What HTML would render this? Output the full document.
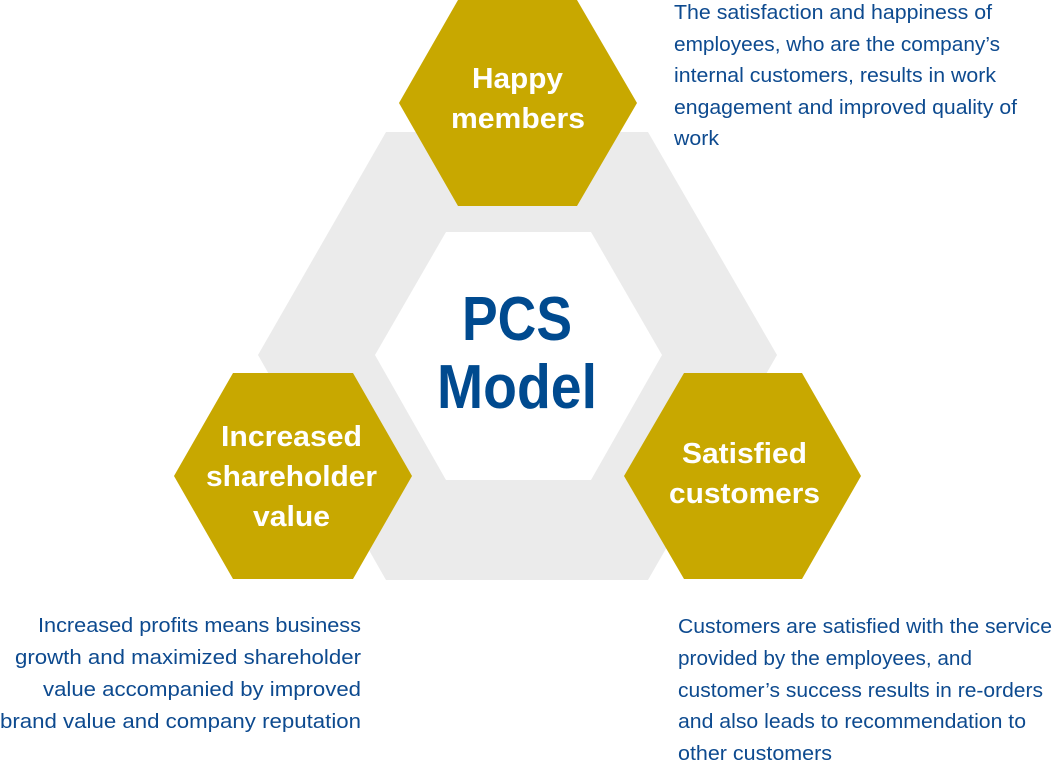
<!DOCTYPE html>
<html><head><meta charset="utf-8"><style>
html,body{margin:0;padding:0;background:#fff;width:1052px;height:762px;overflow:hidden}
svg{display:block}
.d{font-family:"Liberation Sans",sans-serif;font-size:20px;fill:#0d4a8f}
.h{font-family:"Liberation Sans",sans-serif;font-size:29px;font-weight:bold;fill:#fff}
.p{font-family:"Liberation Sans",sans-serif;font-size:62px;font-weight:bold;fill:#004a8f}
</style></head><body>
<svg width="1052" height="762" viewBox="0 0 1052 762" xmlns="http://www.w3.org/2000/svg">
<polygon points="258,355 386,132 648,132 777,355 648,580 386,580" fill="#ebebeb"/>
<polygon points="375,355 446,232 591,232 662,355 591,480 446,480" fill="#fff"/>
<polygon points="399,103 458,0 577,0 637,103 577,206 458,206" fill="#c8a800"/>
<polygon points="174,476 233,373 353,373 412,476 353,579 233,579" fill="#c8a800"/>
<polygon points="624,476 684,373 802,373 861,476 802,579 684,579" fill="#c8a800"/>
<text class="h" x="472" y="88" textLength="91" lengthAdjust="spacingAndGlyphs">Happy</text>
<text class="h" x="451" y="128" textLength="134" lengthAdjust="spacingAndGlyphs">members</text>
<text class="h" x="221" y="446" textLength="141" lengthAdjust="spacingAndGlyphs">Increased</text>
<text class="h" x="206" y="486" textLength="171" lengthAdjust="spacingAndGlyphs">shareholder</text>
<text class="h" x="253" y="526" textLength="77" lengthAdjust="spacingAndGlyphs">value</text>
<text class="h" x="682" y="463" textLength="125" lengthAdjust="spacingAndGlyphs">Satisfied</text>
<text class="h" x="669" y="503" textLength="151" lengthAdjust="spacingAndGlyphs">customers</text>
<text class="p" x="462" y="340" textLength="110" lengthAdjust="spacingAndGlyphs">PCS</text>
<text class="p" x="437" y="408" textLength="160" lengthAdjust="spacingAndGlyphs">Model</text>
<text class="d" x="674" y="19" textLength="318" lengthAdjust="spacingAndGlyphs">The satisfaction and happiness of</text>
<text class="d" x="674" y="51" textLength="326" lengthAdjust="spacingAndGlyphs">employees, who are the company’s</text>
<text class="d" x="674" y="82" textLength="322" lengthAdjust="spacingAndGlyphs">internal customers, results in work</text>
<text class="d" x="674" y="114" textLength="343" lengthAdjust="spacingAndGlyphs">engagement and improved quality of</text>
<text class="d" x="674" y="145" textLength="45" lengthAdjust="spacingAndGlyphs">work</text>
<text class="d" x="38" y="632" textLength="323" lengthAdjust="spacingAndGlyphs">Increased profits means business</text>
<text class="d" x="15" y="664" textLength="346" lengthAdjust="spacingAndGlyphs">growth and maximized shareholder</text>
<text class="d" x="43" y="696" textLength="318" lengthAdjust="spacingAndGlyphs">value accompanied by improved</text>
<text class="d" x="0" y="728" textLength="361" lengthAdjust="spacingAndGlyphs">brand value and company reputation</text>
<text class="d" x="678" y="633" textLength="374" lengthAdjust="spacingAndGlyphs">Customers are satisfied with the service</text>
<text class="d" x="678" y="665" textLength="294" lengthAdjust="spacingAndGlyphs">provided by the employees, and</text>
<text class="d" x="678" y="697" textLength="365" lengthAdjust="spacingAndGlyphs">customer’s success results in re-orders</text>
<text class="d" x="678" y="728" textLength="348" lengthAdjust="spacingAndGlyphs">and also leads to recommendation to</text>
<text class="d" x="678" y="760" textLength="154" lengthAdjust="spacingAndGlyphs">other customers</text>
</svg>
</body></html>
